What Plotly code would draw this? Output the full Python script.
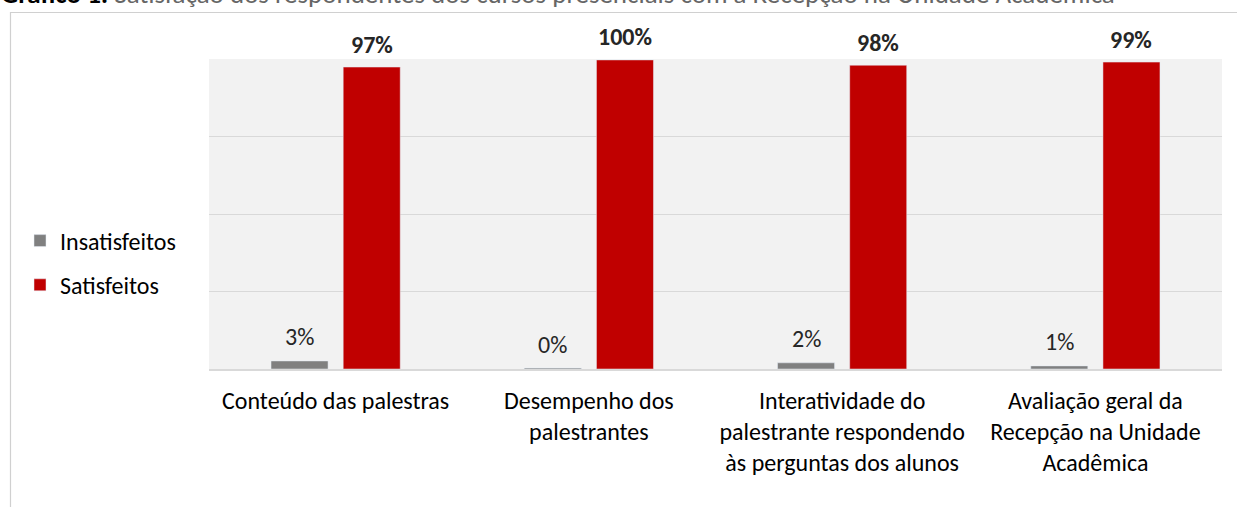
import plotly.graph_objects as go

categories = [
    "Conteúdo das palestras",
    "Desempenho dos<br>palestrantes",
    "Interatividade do<br>palestrante respondendo<br>às perguntas dos alunos",
    "Avaliação geral da<br>Recepção na Unidade<br>Acadêmica",
]
insatisfeitos = [0.026, 0.003, 0.02, 0.01]
satisfeitos = [0.974, 0.997, 0.98, 0.99]
series_names = ["Insatisfeitos", "Satisfeitos"]
title_bold = "Gráfico 1:"
title_rest = " Satisfação dos respondentes dos cursos presenciais com a Recepção na Unidade Acadêmica"

FONT = "Carlito, Calibri, Lato, sans-serif"
GRAY = "#808080"
RED = "#c00000"
FS = 24

# plot area in pixels
W, H = 1237, 507
L, R, T, B = 209, 15, 59, 138
pw, ph = W - L - R, H - T - B


def px_x(p):
    return (p - L) / pw


def px_y(p):
    return (H - B - p) / ph


fig = go.Figure()
fig.add_trace(go.Bar(x=categories, y=insatisfeitos, name=series_names[0],
                     marker=dict(color=GRAY), legendgroup="a"))
fig.add_trace(go.Bar(x=categories, y=satisfeitos, name=series_names[1],
                     marker=dict(color=RED), legendgroup="b"))

annotations = []
for c, v in zip(categories, insatisfeitos):
    annotations.append(dict(x=c, y=v, xref="x", yref="y", text=f"{v:.0%}",
                            showarrow=False, xshift=-36, yshift=24, yanchor="middle",
                            font=dict(family=FONT, size=FS, color="#262626")))
for c, v in zip(categories, satisfeitos):
    annotations.append(dict(x=c, y=v, xref="x", yref="y", text=f"<b>{v:.0%}</b>",
                            showarrow=False, xshift=36, yshift=23, yanchor="middle",
                            font=dict(family=FONT, size=FS, color="#262626")))

annotations.append(dict(x=px_x(-1), y=px_y(-7), xref="paper", yref="paper",
                        xanchor="left", yanchor="middle", showarrow=False,
                        text=f"<b>{title_bold}</b><span style='color:#666666'>{title_rest}</span>",
                        font=dict(family=FONT, size=27, color="#000000")))

shapes = [dict(type="path", xref="paper", yref="paper",
               path=f"M {px_x(10.5)},{px_y(510)} L {px_x(10.5)},{px_y(12.5)} L {px_x(1240)},{px_y(12.5)}",
               line=dict(color="#d0d0d0", width=1.2))]

fig.update_layout(
    width=W, height=H,
    margin=dict(l=L, r=R, t=T, b=B, pad=0),
    paper_bgcolor="white",
    plot_bgcolor="#f2f2f2",
    barmode="group",
    bargap=0.43,
    bargroupgap=0.21,
    font=dict(family=FONT, size=FS, color="#000000"),
    showlegend=True,
    legend=dict(x=px_x(20), y=px_y(263), xanchor="left", yanchor="middle",
                traceorder="grouped", tracegroupgap=10, itemwidth=30,
                font=dict(family=FONT, size=FS, color="#000000"),
                bgcolor="rgba(0,0,0,0)"),
    annotations=annotations,
    shapes=shapes,
)
fig.update_xaxes(showline=True, linecolor="#d9d9d9", linewidth=1.5,
                 showgrid=False, ticks="", ticklabelstandoff=9,
                 tickfont=dict(family=FONT, size=FS, color="#000000"))
fig.update_yaxes(range=[0, 1], dtick=0.25, showgrid=True, gridcolor="#d9d9d9",
                 gridwidth=1, showticklabels=False, zeroline=False, showline=False)

fig.write_html("out.html", config={"displayModeBar": False},
               post_script="document.body.style.margin='0';document.body.style.overflow='hidden';")
